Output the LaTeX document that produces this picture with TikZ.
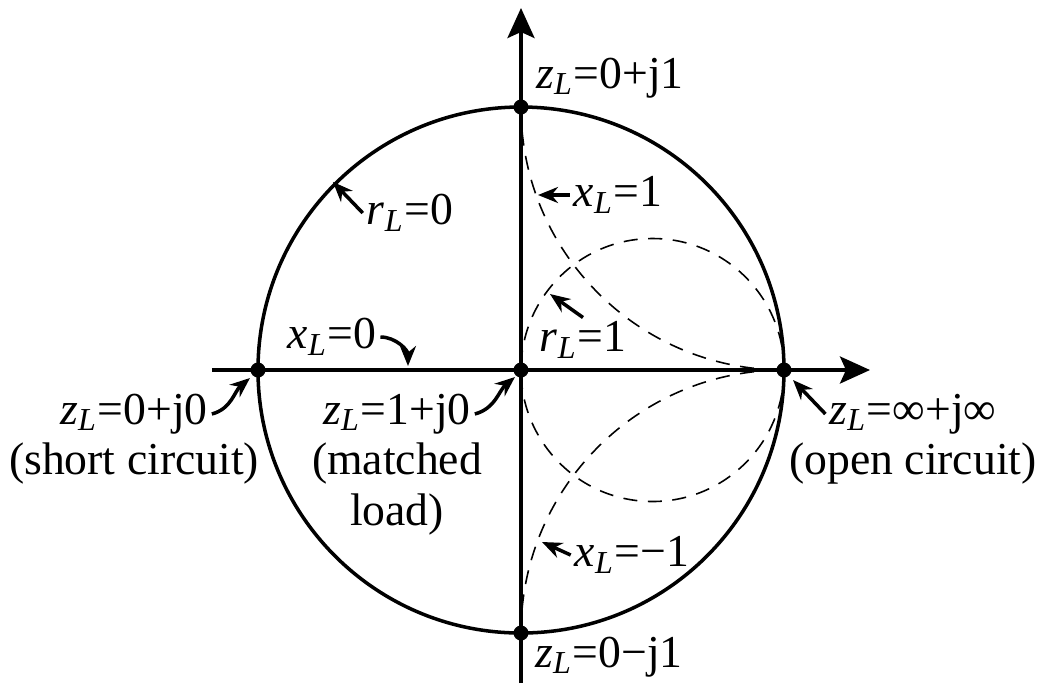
\documentclass[tikz,border=0pt]{standalone}
\usepackage{fontspec}
\setmainfont{Liberation Serif}
\usetikzlibrary{arrows.meta, positioning}
\newcommand{\qL}[1]{\textit{#1}\textsubscript{\textit{L}}}
\tikzset{
  axis/.style={line width=1pt, -{Stealth[length=0.3cm, width=0.27cm, inset=0.06cm]}},
  rim/.style={line width=1pt},
  curve/.style={line width=0.45pt, dash pattern=on 4pt off 3pt},
  dot/.style={circle, fill=black, inner sep=0pt, minimum size=0.15cm},
  lbl/.style={inner sep=1pt, font=\fontsize{13}{14.5}\selectfont},
  pointer/.style={-{Stealth[length=0.2cm, width=0.16cm]}, line width=1pt}
}

\begin{document}
\begin{tikzpicture}
  \useasboundingbox (-5.21,-3.13) rectangle (5.21,3.70);

  % chart
  \draw[rim] (0,0) circle[radius=2.63];
  \draw[curve] (1.315,0) circle[radius=1.315];
  \draw[curve] (0,2.63) arc[start angle=180, end angle=270, radius=2.63];
  \draw[curve] (0,-2.63) arc[start angle=180, end angle=90, radius=2.63];

  % axes
  \coordinate (xmin) at (-3.09,0);
  \coordinate (xmax) at (3.49,0);
  \coordinate (ymin) at (0,-3.13);
  \coordinate (ymax) at (0,3.62);
  \draw[axis] (xmin) -- (xmax);
  \draw[axis] (ymin) -- (ymax);

  % special points
  \node[dot] (open) at (2.63,0) {};
  \node[dot] (short) at (-2.63,0) {};
  \node[dot] (match) at (0,0) {};
  \node[dot] (pj) at (0,2.63) {};
  \node[dot] (mj) at (0,-2.63) {};

  % labels
  \node[lbl] (ztop) at (0.89,2.92) {\qL{z}=0+j1};
  \node[lbl] (zbot) at (0.88,-2.87) {\qL{z}=0−j1};
  \node[lbl] (rzero) at (-1.11,1.57) {\qL{r}=0};
  \node[lbl] (xone) at (0.97,1.75) {\qL{x}=1};
  \node[lbl] (rone) at (0.62,0.30) {\qL{r}=1};
  \node[lbl] (xzero) at (-1.89,0.33) {\qL{x}=0};
  \node[lbl] (xmone) at (1.11,-1.85) {\qL{x}=−1};
  \node[lbl] (zshort) at (-3.87,-0.44) {\qL{z}=0+j0};
  \node[lbl, below=0pt of zshort] (tshort) {(short circuit)};
  \node[lbl] (zmatch) at (-1.24,-0.44) {\qL{z}=1+j0};
  \node[lbl, below=0pt of zmatch, align=center] (tmatch) {(matched\\load)};
  \node[lbl] (zopen) at (3.92,-0.44) {\qL{z}=∞+j∞};
  \node[lbl, below=0pt of zopen] (topen) {(open circuit)};

  % pointer targets
  \coordinate (onrim) at (135:2.66);
  \coordinate (onxone) at (0.17,1.75);
  \coordinate (onrone) at (0.29,0.76);
  \coordinate (onaxis) at (-1.13,0.04);
  \coordinate (onxmone) at (0.21,-1.72);
  \coordinate (atshort) at (-2.71,-0.08);
  \coordinate (atmatch) at (-0.06,-0.07);
  \coordinate (atopen) at (2.72,-0.10);

  \draw[pointer] (rzero.west) -- (onrim);
  \draw[pointer] (xone.west) -- (onxone);
  \draw[pointer] (rone.north) -- (onrone);
  \draw[pointer] (xzero.east) to[out=0, in=90] (onaxis);
  \draw[pointer] (xmone.west) -- (onxmone);
  \draw[pointer] (zshort.east) to[out=15, in=220] (atshort);
  \draw[pointer] (zmatch.east) to[out=15, in=220] (atmatch);
  \draw[pointer] (zopen.west) -- (atopen);
\end{tikzpicture}
\end{document}
